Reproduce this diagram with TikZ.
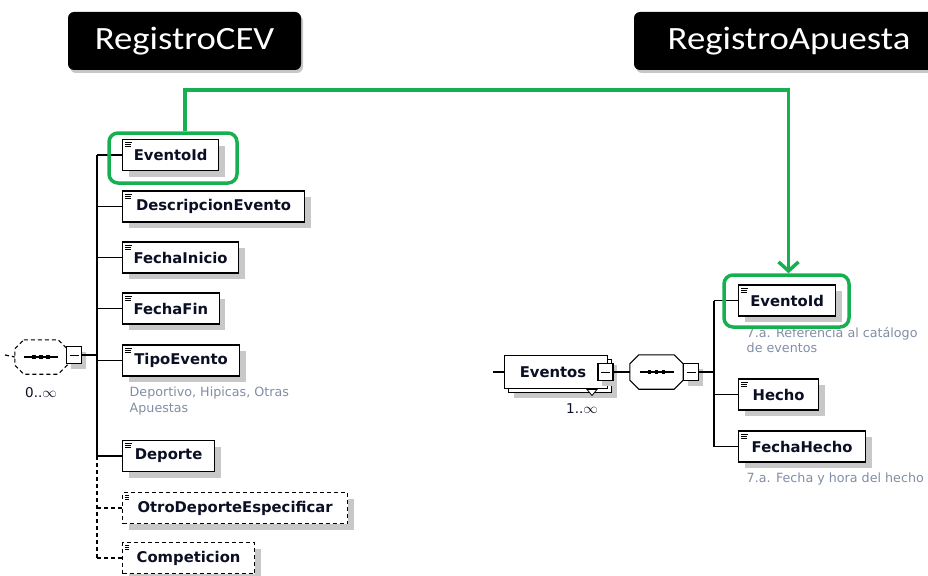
\documentclass[tikz,border=0pt]{standalone}
\usepackage{fontspec}
\setmainfont{DejaVu Sans}
\newfontfamily\titlefont[FakeStretch=1.13]{Carlito}
\usetikzlibrary{arrows.meta,shadows}
\definecolor{grn}{RGB}{22,176,80}
\definecolor{annot}{RGB}{128,142,165}
\definecolor{shad}{RGB}{200,200,200}
\definecolor{ink}{RGB}{10,15,35}
\newcommand\octpath[2]{% node name, chamfer
  ([xshift=#2]#1.north west) -- ([xshift=-#2]#1.north east) -- ([yshift=-#2]#1.north east)
  -- ([yshift=#2]#1.south east) -- ([xshift=-#2]#1.south east) -- ([xshift=#2]#1.south west)
  -- ([yshift=#2]#1.south west) -- ([yshift=-#2]#1.north west) -- cycle}
\begin{document}
\begin{tikzpicture}[x=1pt,y=-1pt,
  elem/.style={draw=black, line width=1.2pt, fill=white, anchor=west, minimum height=31pt,
    inner xsep=11pt, text=ink, font=\fontsize{14.8}{16}\selectfont\bfseries,
    general shadow={fill=shad, shadow xshift=6pt, shadow yshift=-6pt},
    path picture={
      \draw[line width=0.8pt] ([xshift=2.5pt,yshift=-3pt]path picture bounding box.north west) -- ++(7pt,0pt);
      \draw[line width=0.8pt] ([xshift=2.5pt,yshift=-5pt]path picture bounding box.north west) -- ++(6pt,0pt);
      \draw[line width=0.8pt] ([xshift=2.5pt,yshift=-7pt]path picture bounding box.north west) -- ++(6pt,0pt);
    }},
  optelem/.style={elem, dash pattern=on 4pt off 3pt},
  minusbox/.style={draw=black, line width=1.1pt, fill=white, minimum width=15pt, minimum height=17pt, inner sep=0pt,
    general shadow={fill=shad, shadow xshift=4pt, shadow yshift=-5pt},
    path picture={\draw[line width=0.9pt] ([xshift=3pt]path picture bounding box.west) -- ([xshift=-3pt]path picture bounding box.east);}},
  seqarea/.style={minimum height=34pt, inner sep=0pt},
  octline/.style={draw=black, line width=1.1pt, fill=white},
  octshadow/.style={fill=shad, shift={(5pt,-6pt)}},
  dotsq/.style={fill=black, minimum size=3.6pt, inner sep=0pt},
  hl/.style={draw=grn, line width=3.5pt, rounded corners=9pt, minimum width=128pt, minimum height=50pt},
  titlebox/.style={fill=black, rounded corners=6pt, text=white, minimum height=58pt,
    font=\titlefont\fontsize{32.5}{36}\selectfont,
    drop shadow={opacity=0.45, shadow xshift=2pt, shadow yshift=-3pt}},
  annot/.style={anchor=north west, text=annot, font=\fontsize{12.7}{15.5}\selectfont, align=left, inner sep=0pt},
  mult/.style={text=ink, font=\fontsize{13.5}{15}\selectfont, inner sep=0pt},
  conn/.style={draw=black, line width=1.2pt},
  dconn/.style={conn, dash pattern=on 4pt off 3pt},
]
\useasboundingbox (0,0) rectangle (928,575);

% titles
\node[titlebox, minimum width=233pt] (t1) at (184.5,41) {RegistroCEV};
\node[titlebox, minimum width=310pt] (t2) at (789,41) {RegistroApuesta};

% left tree
\node[seqarea, minimum width=52pt] (s1) at (41,357) {};
\coordinate (in1) at (5,355);
\draw[dconn] (in1) -- (s1.west);
\fill[octshadow] \octpath{s1}{9pt};
\path[octline, dash pattern=on 4pt off 3pt] \octpath{s1}{9pt};
\draw[line width=1.1pt] ([xshift=-17pt]s1.center) -- ([xshift=17pt]s1.center);
\node[dotsq] (s1a) at ([xshift=-7pt]s1.center) {};
\node[dotsq] (s1b) at (s1.center) {};
\node[dotsq] (s1c) at ([xshift=7pt]s1.center) {};
\node[minusbox] (m1) at (74,355) {};
\node[mult] (n1) at (41,393) {0..\(\infty\)};

\coordinate (tx) at (97,0);
\node[elem, minimum width=96pt] (e1) at (122,155) {EventoId};
\node[elem, minimum width=182pt] (e2) at (122,206.5) {DescripcionEvento};
\node[elem, minimum width=112pt] (e3) at (122,257.5) {FechaInicio};
\node[elem, minimum width=93pt] (e4) at (122,308.5) {FechaFin};
\node[elem, minimum width=117pt] (e5) at (122,360.5) {TipoEvento};
\node[annot] (a5) at (129.5,387) {Deportivo, Hipicas, Otras\\Apuestas};
\node[elem, minimum width=92pt] (e6) at (122,456) {Deporte};
\node[optelem, minimum width=225pt] (e7) at (122,508) {OtroDeporteEspecificar};
\node[optelem, minimum width=132pt] (e8) at (122,558) {Competicion};

\draw[conn] (m1.east) -- (tx |- m1.east);
\draw[conn] (tx |- e1.west) -- (tx |- e6.west);
\draw[dconn] (tx |- e6.west) -- (tx |- e8.west);
\foreach \e in {e1,e2,e3,e4,e5,e6} \draw[conn] (tx |- \e.west) -- (\e.west);
\foreach \e in {e7,e8} \draw[dconn] (tx |- \e.west) -- (\e.west);

% right tree
\coordinate (in2) at (493,372);
\node[draw=black, line width=1.1pt, fill=white, minimum width=103pt, minimum height=33pt, inner sep=0pt,
  text=ink, font=\fontsize{14.8}{16}\selectfont\bfseries,
  general shadow={fill=shad, shadow xshift=9pt, shadow yshift=-9pt},
  general shadow={draw=black, line width=1.1pt, fill=white, shadow xshift=4pt, shadow yshift=-4pt}]
  (ev) at (556,372) {\hspace*{-6pt}Eventos};
\node[minusbox] (m2) at (605.5,372) {};
\node[mult] (n2) at (582,409) {1..\(\infty\)};
\draw[line width=0.8pt, fill=white] (587,389.5) -- (597,389.5) -- (592,395.5) -- cycle;

\node[seqarea, minimum width=53pt] (s2) at (656.5,372) {};
\fill[octshadow] \octpath{s2}{9pt};
\path[octline] \octpath{s2}{9pt};
\draw[line width=1.1pt] ([xshift=-17pt]s2.center) -- ([xshift=17pt]s2.center);
\node[dotsq] (s2a) at ([xshift=-7pt]s2.center) {};
\node[dotsq] (s2b) at (s2.center) {};
\node[dotsq] (s2c) at ([xshift=7pt]s2.center) {};
\node[minusbox] (m3) at (691,372) {};

\coordinate (tx2) at (714,0);
\node[elem, minimum width=97pt] (r1) at (738,300.5) {EventoId};
\node[annot] (ra1) at (746.5,327) {7.a. Referencia al catálogo\\de eventos};
\node[elem, minimum width=80pt] (r2) at (738,394.5) {Hecho};
\node[elem, minimum width=127pt] (r3) at (738,446.5) {FechaHecho};
\node[annot] (ra3) at (746.5,473) {7.a. Fecha y hora del hecho};

\draw[conn] (in2) -- (ev.west);
\draw[conn] (m2.east) -- (s2.west);
\draw[conn] (m3.east) -- (tx2 |- m3.east);
\draw[conn] (tx2 |- r1.west) -- (tx2 |- r3.west);
\foreach \e in {r1,r2,r3} \draw[conn] (tx2 |- \e.west) -- (\e.west);

% highlights and green arrow
\node[hl] (g1) at (173,158) {};
\node[hl, minimum width=125pt, minimum height=52pt] (g2) at (786.5,301) {};
\draw[grn, line width=3.5pt, -{Straight Barb[length=9pt,width=20pt]}]
  ([xshift=12pt]g1.north) -- ++(0,-41) -| ([xshift=2pt]g2.north);
\end{tikzpicture}
\end{document}
